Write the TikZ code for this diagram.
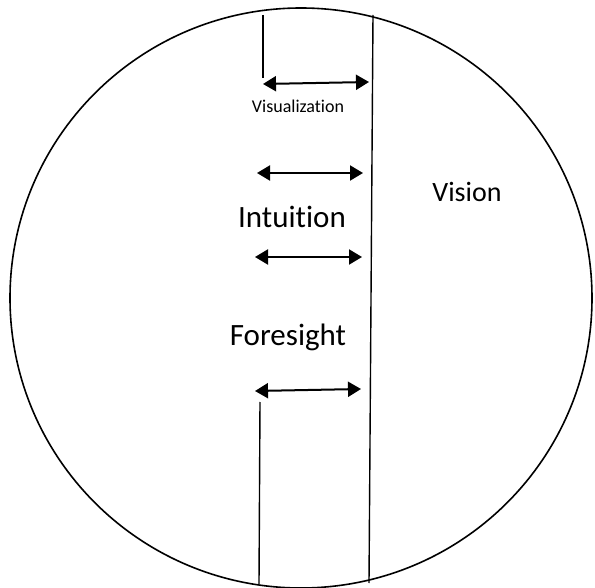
\documentclass[tikz,border=0pt]{standalone}
\usepackage{fontspec}
\setmainfont{Carlito}[Ligatures={NoCommon,NoRare,NoDiscretionary}]
\usetikzlibrary{arrows.meta}
\begin{document}
\begin{tikzpicture}[x=1pt,y=-1pt,
  rim/.style={line width=1.6pt},
  divider/.style={line width=1.4pt},
  dblarrow/.style={line width=2pt,{Triangle[length=13pt,width=15pt]}-{Triangle[length=13pt,width=15pt]}},
  lbl/.style={anchor=base,inner sep=0pt,text=black}]
\useasboundingbox (0,0) rectangle (595,588);
\draw[rim] (301,298) circle[x radius=291pt,y radius=290pt];
% vertical lines
\coordinate (ut) at (263,15);
\coordinate (ub) at (263,78);
\coordinate (rt) at (373,15);
\coordinate (rb) at (369,583);
\coordinate (lt) at (260,402);
\coordinate (lb) at (259,584);
\draw[divider] (ut) -- (ub);
\draw[divider] (rt) -- (rb);
\draw[divider] (lt) -- (lb);
% arrows
\coordinate (a1l) at (263,84);
\coordinate (a1r) at (369,82);
\coordinate (a2l) at (257,173);
\coordinate (a2r) at (363,173);
\coordinate (a3l) at (255,257);
\coordinate (a3r) at (362,257);
\coordinate (a4l) at (255,391);
\coordinate (a4r) at (361,389);
\draw[dblarrow] (a1l) -- (a1r);
\draw[dblarrow] (a2l) -- (a2r);
\draw[dblarrow] (a3l) -- (a3r);
\draw[dblarrow] (a4l) -- (a4r);
% labels
\node[lbl,font=\fontsize{18}{20}\selectfont] (vis) at (298,113) {Visualization};
\node[lbl,font=\fontsize{31}{34}\selectfont] (int) at (292,228) {Intuition};
\node[lbl,font=\fontsize{31}{34}\selectfont] (for) at (288,345) {Foresight};
\node[lbl,font=\fontsize{28}{31}\selectfont] (vsn) at (467,202) {Vision};
\end{tikzpicture}
\end{document}
